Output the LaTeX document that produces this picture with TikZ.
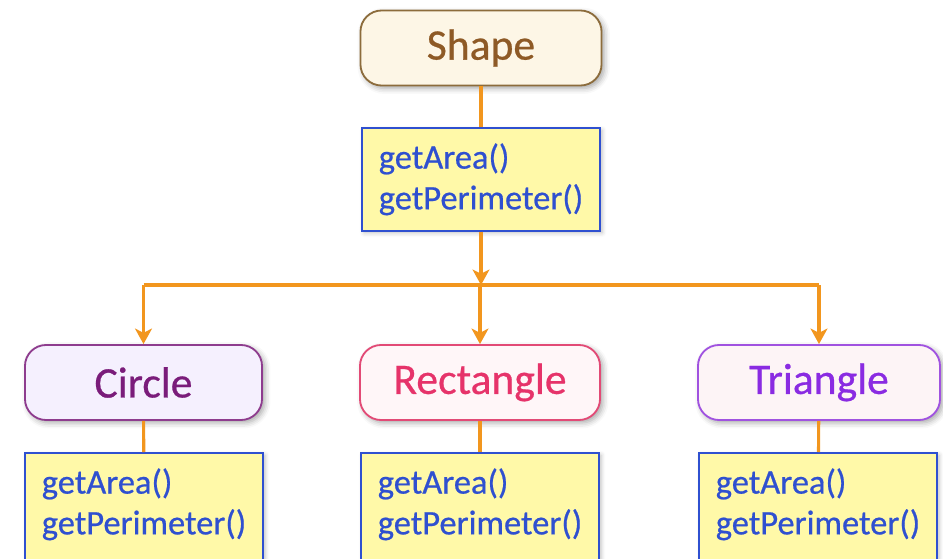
\documentclass[tikz,border=0pt]{standalone}
\usepackage{fontspec}
\setmainfont{Carlito}[FakeBold=0.6]
\usetikzlibrary{arrows.meta,shadows.blur}
\definecolor{linkorange}{HTML}{F2961E}
\definecolor{opsyellow}{HTML}{FFF9A8}
\definecolor{opsblue}{HTML}{2F50D0}
\definecolor{shapefill}{HTML}{FDF6E6}
\definecolor{shapeline}{HTML}{8C6C3C}
\definecolor{shapetext}{HTML}{8E5A26}
\definecolor{circlefill}{HTML}{F5F0FE}
\definecolor{circleline}{HTML}{8E3C8E}
\definecolor{circletext}{HTML}{7A1C7A}
\definecolor{rectfill}{HTML}{FFF6F8}
\definecolor{rectline}{HTML}{E24A76}
\definecolor{recttext}{HTML}{E6336A}
\definecolor{trifill}{HTML}{FDF4F6}
\definecolor{triline}{HTML}{A052E0}
\definecolor{tritext}{HTML}{8A2BE2}
\begin{document}
\begin{tikzpicture}[x=0.025cm,y=-0.025cm,
	classbox/.style={draw, rounded corners=15pt, line width=1.3pt,
		minimum height=1.875cm, font=\fontsize{31}{36}\selectfont,
		blur shadow={shadow xshift=2pt, shadow yshift=-2pt, shadow blur radius=4pt, shadow opacity=35}},
	opsbox/.style={draw=opsblue, fill=opsyellow, text=opsblue, line width=1.3pt,
		align=left, minimum width=5.95cm, inner ysep=11pt, anchor=north,
		font=\fontsize{24.5}{29}\selectfont,
		blur shadow={shadow xshift=1.5pt, shadow yshift=-1.5pt, shadow blur radius=3pt, shadow opacity=25}},
	link/.style={draw=linkorange, line width=2.2pt},
	downarrow/.style={-{Stealth[length=11pt,width=12pt,inset=3pt]}}]
		%Page size
		\useasboundingbox (0,0) rectangle (943,559);
		%The base class and its methods
		\node [classbox, fill=shapefill, draw=shapeline, text=shapetext, minimum width=6.025cm] (shape) at (481,48) {Shape};
		\node [opsbox] (shapeops) at (481,127) {getArea()\\getPerimeter()};
		%The three subclasses
		\node [classbox, fill=circlefill, draw=circleline, text=circletext, minimum width=5.925cm] (circle) at (143.5,382.5) {Circle};
		\node [classbox, fill=rectfill, draw=rectline, text=recttext, minimum width=6cm] (rect) at (480,382.5) {Rectangle};
		\node [classbox, fill=trifill, draw=triline, text=tritext, minimum width=6.05cm] (tri) at (819,382.5) {Triangle};
		%Methods of the subclasses (cut off at the bottom)
		\node [opsbox, text depth=30pt] (circleops) at (144,452) {getArea()\\getPerimeter()};
		\node [opsbox, text depth=30pt] (rectops) at (480,452) {getArea()\\getPerimeter()};
		\node [opsbox, text depth=30pt] (triops) at (818,452) {getArea()\\getPerimeter()};
		%Short links from a class to its methods
		\draw [link] (shape) -- (shapeops);
		\draw [link] (circle) -- (circleops);
		\draw [link] (rect) -- (rectops);
		\draw [link] (tri) -- (triops);
		%Branching arrows
		\coordinate (split) at (481,285);
		\draw [link, downarrow] (shapeops.south) -- (split);
		\draw [link] (split -| circle) -- (split -| tri);
		\draw [link, downarrow] (split -| circle) -- (circle.north);
		\draw [link, downarrow] (split -| rect) -- (rect.north);
		\draw [link, downarrow] (split -| tri) -- (tri.north);
\end{tikzpicture}
\end{document}
